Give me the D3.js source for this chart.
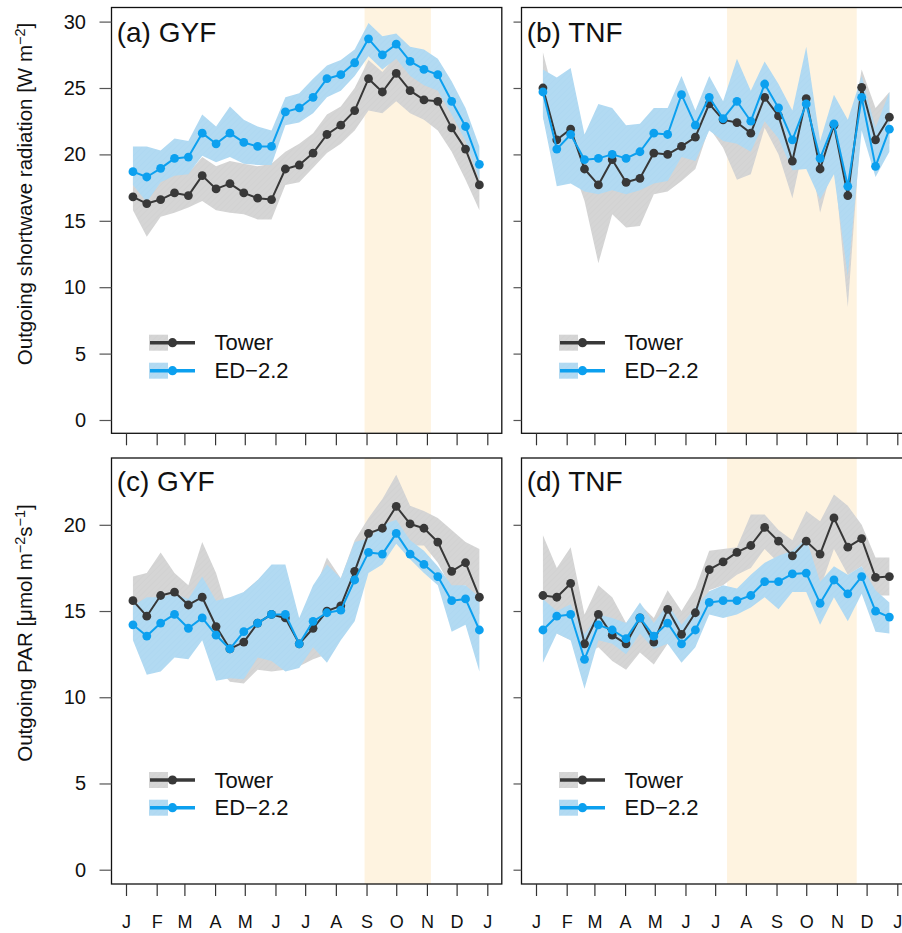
<!DOCTYPE html>
<html>
<head>
<meta charset="utf-8">
<script src="https://cdn.jsdelivr.net/npm/d3@7"></script>
<style>
  html, body { margin: 0; padding: 0; background: #fff; }
  svg { display: block; font-family: "Liberation Sans", Arial, Helvetica, sans-serif; }
</style>
</head>
<body>
<svg id="chart" width="902" height="933"></svg>
<script>
// ---- Calendar axis -------------------------------------------------------
const monthStarts = [0, 31, 59, 90, 120, 151, 181, 212, 243, 273, 304, 334, 365];
const monthLabels = ["J", "F", "M", "A", "M", "J", "J", "A", "S", "O", "N", "D", "J"];
// Centre day-of-year of each fortnightly averaging window
const sampleDays = [7, 21, 35, 49, 63, 77, 91, 105, 119, 133, 147, 161, 175,
                    189, 203, 217, 231, 245, 259, 273, 287, 301, 315, 329, 343, 357];

// ---- Dry season (day-of-year) per site ----------------------------------
const gyfDrySeason = [241, 308];
const tnfDrySeason = [193, 324];

// ---- (a) GYF outgoing shortwave [W m-2] ---------------------------------
const gyfSwTower   = [16.8, 16.3, 16.6, 17.1, 16.9, 18.4, 17.4, 17.8, 17.1, 16.7, 16.6, 18.9, 19.2, 20.1, 21.5, 22.2, 23.3, 25.7, 24.7, 26.1, 24.8, 24.1, 24.0, 22.0, 20.4, 17.7];
const gyfSwTowerLo = [15.8, 13.8, 15.3, 15.6, 16.0, 16.5, 15.8, 15.6, 15.5, 15.1, 15.1, 17.7, 17.9, 19.0, 20.1, 20.8, 21.8, 23.3, 23.1, 24.0, 23.1, 22.6, 21.8, 20.2, 18.1, 15.8];
const gyfSwTowerHi = [18.3, 18.0, 18.6, 19.0, 18.6, 19.8, 19.1, 19.5, 19.3, 19.1, 19.3, 20.2, 20.8, 21.6, 23.0, 23.6, 25.0, 27.1, 26.2, 27.4, 26.1, 25.4, 25.1, 23.6, 21.7, 19.6];
const gyfSwEd      = [18.7, 18.3, 18.95, 19.7, 19.8, 21.6, 20.8, 21.6, 20.9, 20.6, 20.6, 23.2, 23.5, 24.3, 25.7, 26.0, 26.9, 28.7, 27.5, 28.3, 27.0, 26.4, 26.0, 24.0, 22.1, 19.25];
const gyfSwEdLo    = [17.7, 16.4, 17.9, 18.4, 18.5, 19.9, 19.4, 19.8, 19.3, 19.2, 19.2, 22.2, 22.4, 23.1, 24.3, 24.8, 25.9, 27.4, 26.4, 27.2, 25.9, 25.2, 24.8, 23.0, 21.0, 18.1];
const gyfSwEdHi    = [20.6, 20.6, 20.3, 21.2, 21.0, 23.0, 22.1, 23.6, 22.6, 22.1, 21.8, 24.3, 24.6, 25.7, 26.7, 27.1, 27.9, 29.9, 28.9, 29.1, 28.1, 27.9, 27.2, 25.5, 23.5, 20.6];

// ---- (b) TNF outgoing shortwave [W m-2] ---------------------------------
const tnfSwTower   = [25.0, 21.1, 21.9, 18.9, 17.7, 19.6, 17.9, 18.2, 20.1, 20.0, 20.6, 21.3, 23.8, 22.6, 22.4, 21.6, 24.3, 22.9, 19.5, 24.2, 18.9, 22.2, 16.9, 25.05, 21.1, 22.8];
const tnfSwTowerLo = [22.8, 19.5, 19.5, 16.5, 11.8, 15.5, 14.5, 14.6, 17.0, 17.2, 18.0, 18.9, 22.0, 20.5, 18.1, 18.5, 22.0, 20.0, 16.7, 21.5, 15.6, 19.5, 8.5, 22.8, 20.2, 20.8];
const tnfSwTowerHi = [27.7, 23.6, 26.2, 20.0, 19.0, 21.5, 20.5, 20.8, 21.8, 22.0, 22.8, 23.0, 24.8, 23.8, 23.2, 23.0, 26.4, 23.8, 21.5, 25.5, 20.5, 23.8, 20.5, 26.4, 23.5, 24.7];
const tnfSwEd      = [24.7, 20.4, 21.5, 19.6, 19.7, 20.0, 19.7, 20.2, 21.6, 21.5, 24.5, 22.2, 24.3, 22.7, 24.0, 22.5, 25.3, 23.5, 21.1, 23.8, 19.7, 22.3, 17.6, 24.3, 19.1, 21.9];
const tnfSwEdLo    = [22.8, 17.6, 17.8, 17.2, 17.0, 17.3, 17.0, 17.3, 17.8, 18.0, 19.8, 19.5, 21.8, 21.0, 20.8, 20.2, 22.5, 21.2, 18.8, 18.9, 16.6, 18.5, 10.8, 21.8, 18.3, 20.2];
const tnfSwEdHi    = [26.4, 25.8, 26.5, 21.5, 23.8, 23.5, 22.2, 22.3, 23.5, 23.5, 25.9, 23.3, 25.9, 24.0, 27.2, 24.8, 27.0, 25.3, 23.3, 28.1, 21.0, 24.5, 22.6, 25.9, 22.0, 24.7];

// ---- (c) GYF outgoing PAR [umol m-2 s-1] --------------------------------
const gyfParTower   = [15.6, 14.7, 15.9, 16.1, 15.35, 15.8, 14.1, 12.8, 13.2, 14.3, 14.8, 14.6, 13.1, 14.0, 15.0, 15.3, 17.3, 19.5, 19.8, 21.07, 20.05, 19.8, 19.0, 17.3, 17.8, 15.8];
const gyfParTowerLo = [14.0, 13.5, 14.3, 14.5, 14.0, 14.4, 11.8, 10.9, 10.8, 11.6, 11.5, 11.6, 11.8, 12.2, 12.5, 13.5, 15.5, 18.3, 18.5, 19.3, 18.8, 18.8, 17.8, 16.3, 16.5, 14.8];
const gyfParTowerHi = [17.0, 17.2, 18.4, 17.2, 16.5, 19.0, 17.2, 14.6, 16.1, 16.8, 16.0, 16.0, 14.3, 16.0, 18.1, 16.9, 19.1, 20.4, 21.5, 22.9, 21.1, 20.8, 20.4, 19.7, 19.0, 18.6];
const gyfParEd      = [14.2, 13.55, 14.3, 14.8, 14.0, 14.6, 13.6, 12.8, 13.8, 14.3, 14.8, 14.8, 13.1, 14.4, 14.9, 15.05, 16.8, 18.4, 18.3, 19.5, 18.3, 17.7, 17.0, 15.6, 15.7, 13.9];
const gyfParEdLo    = [13.3, 11.3, 11.5, 12.3, 12.2, 13.3, 10.95, 11.1, 11.05, 12.3, 12.1, 11.5, 11.7, 12.9, 12.0, 13.3, 14.4, 17.2, 17.7, 18.9, 18.0, 17.2, 16.5, 13.8, 14.2, 11.5];
const gyfParEdHi    = [15.3, 15.8, 15.8, 16.0, 15.7, 17.0, 15.6, 15.8, 16.1, 16.8, 17.7, 17.7, 14.6, 16.5, 17.7, 16.9, 19.0, 19.2, 20.0, 20.3, 19.1, 18.5, 17.6, 16.5, 16.5, 15.8];

// ---- (d) TNF outgoing PAR [umol m-2 s-1] --------------------------------
const tnfParTower   = [15.9, 15.8, 16.6, 13.1, 14.8, 13.6, 13.1, 14.6, 13.2, 15.1, 13.65, 14.9, 17.4, 17.85, 18.4, 18.8, 19.85, 19.05, 18.2, 19.05, 18.3, 20.4, 18.7, 19.2, 16.95, 17.0];
const tnfParTowerLo = [14.8, 13.7, 13.3, 12.4, 12.9, 12.1, 11.6, 12.6, 11.9, 13.1, 12.4, 13.45, 16.2, 16.5, 17.1, 17.5, 18.6, 17.8, 16.85, 17.6, 16.3, 18.6, 17.1, 17.6, 15.9, 15.9];
const tnfParTowerHi = [19.4, 17.5, 18.7, 14.8, 16.5, 15.8, 14.3, 15.4, 14.6, 16.2, 15.0, 16.3, 18.5, 18.6, 18.7, 20.6, 20.6, 19.7, 19.1, 20.8, 20.2, 21.75, 21.1, 20.0, 18.1, 18.1];
const tnfParEd      = [13.9, 14.7, 14.8, 12.2, 14.2, 13.9, 13.4, 14.6, 13.55, 14.3, 13.1, 13.9, 15.5, 15.6, 15.6, 15.9, 16.7, 16.7, 17.15, 17.2, 15.45, 16.8, 16.0, 17.0, 15.0, 14.65];
const tnfParEdLo    = [12.0, 13.7, 13.3, 10.5, 13.3, 13.1, 12.5, 13.7, 12.8, 13.1, 12.0, 12.9, 14.8, 14.6, 14.8, 15.2, 15.8, 15.1, 16.1, 16.1, 14.2, 15.8, 14.4, 16.0, 13.8, 13.7];
const tnfParEdHi    = [15.7, 15.0, 15.4, 13.65, 14.8, 14.6, 14.3, 15.5, 14.3, 15.4, 14.2, 15.2, 16.15, 16.5, 16.3, 17.1, 17.8, 18.2, 18.5, 19.2, 16.7, 17.6, 17.1, 17.6, 16.2, 15.5];

// ---- Labels ----------------------------------------------------------------
const panelTitles = ["(a) GYF", "(b) TNF", "(c) GYF", "(d) TNF"];
const seriesNames = ["Tower", "ED\u22122.2"];
const swTicks = [0, 5, 10, 15, 20, 25, 30];
const parTicks = [0, 5, 10, 15, 20];

// ---- Styling -----------------------------------------------------------------
const towerLine = "#383838", towerBand = "#d5d5d5";
const edLine = "#0ca0ef", edBand = "#b2daf2";
const seasonFill = "#fef3e0";

const svg = d3.select("#chart");
const defs = svg.append("defs");

function hatch(id, base, stripe) {
  const p = defs.append("pattern")
    .attr("id", id).attr("patternUnits", "userSpaceOnUse")
    .attr("width", 4).attr("height", 4)
    .attr("patternTransform", "rotate(45)");
  p.append("rect").attr("width", 4).attr("height", 4).attr("fill", base);
  p.append("line").attr("x1", 0).attr("y1", 0).attr("x2", 0).attr("y2", 4)
    .attr("stroke", stripe).attr("stroke-width", 1);
}
hatch("hatchTower", towerBand, "#d0d0d0");
hatch("hatchEd", edBand, "#acd7f1");

// Plot regions (2 columns x 2 rows)
const colLeft = [111.5, 521.5];
const boxW = 390.3;
const rows = [
  { top: 7.5, bottom: 433.3, domain: [0, 30], range: [420, 21.6], ticks: swTicks,
    labelY: 42, legendY: [342.7, 370.7], titleY: 194 },
  { top: 458, bottom: 884, domain: [0, 20], range: [869.7, 524.8], ticks: parTicks,
    labelY: 490.5, legendY: [780, 807.7], titleY: 633 }
];

const panels = [
  { title: panelTitles[0], col: 0, row: 0, season: gyfDrySeason,
    tower: [gyfSwTower, gyfSwTowerLo, gyfSwTowerHi], ed: [gyfSwEd, gyfSwEdLo, gyfSwEdHi] },
  { title: panelTitles[1], col: 1, row: 0, season: tnfDrySeason,
    tower: [tnfSwTower, tnfSwTowerLo, tnfSwTowerHi], ed: [tnfSwEd, tnfSwEdLo, tnfSwEdHi] },
  { title: panelTitles[2], col: 0, row: 1, season: gyfDrySeason,
    tower: [gyfParTower, gyfParTowerLo, gyfParTowerHi], ed: [gyfParEd, gyfParEdLo, gyfParEdHi] },
  { title: panelTitles[3], col: 1, row: 1, season: tnfDrySeason,
    tower: [tnfParTower, tnfParTowerLo, tnfParTowerHi], ed: [tnfParEd, tnfParEdLo, tnfParEdHi] }
];

panels.forEach((p, k) => {
  const r = rows[p.row];
  const x0 = colLeft[p.col];
  const x = d3.scaleLinear().domain([0, 365]).range([x0 + 14.5, x0 + 375.8]);
  const y = d3.scaleLinear().domain(r.domain).range(r.range);
  const g = svg.append("g");

  const clipId = "clip" + k;
  defs.append("clipPath").attr("id", clipId)
    .append("rect").attr("x", x0).attr("y", r.top)
    .attr("width", boxW).attr("height", r.bottom - r.top);
  const plot = g.append("g").attr("clip-path", `url(#${clipId})`);

  // dry season shading
  plot.append("rect")
    .attr("x", x(p.season[0])).attr("y", r.top)
    .attr("width", x(p.season[1]) - x(p.season[0]))
    .attr("height", r.bottom - r.top)
    .attr("fill", seasonFill);

  const ribbon = (lo, hi) => d3.area()
    .x((d, i) => x(sampleDays[i]))
    .y0((d, i) => y(lo[i]))
    .y1((d, i) => y(hi[i]))(sampleDays);
  const path = vals => d3.line()
    .x((d, i) => x(sampleDays[i]))
    .y(d => y(d))(vals);

  plot.append("path").attr("d", ribbon(p.tower[1], p.tower[2])).attr("fill", "url(#hatchTower)");
  plot.append("path").attr("d", ribbon(p.ed[1], p.ed[2])).attr("fill", "url(#hatchEd)");

  [[p.tower[0], towerLine], [p.ed[0], edLine]].forEach(([vals, col]) => {
    plot.append("path").attr("d", path(vals)).attr("fill", "none")
      .attr("stroke", col).attr("stroke-width", 2).attr("stroke-linejoin", "round");
    plot.selectAll(null).data(vals).enter().append("circle")
      .attr("cx", (d, i) => x(sampleDays[i])).attr("cy", d => y(d))
      .attr("r", 4.4).attr("fill", col);
  });

  // frame
  g.append("rect").attr("x", x0).attr("y", r.top)
    .attr("width", boxW).attr("height", r.bottom - r.top)
    .attr("fill", "none").attr("stroke", "#111").attr("stroke-width", 1.3);

  // y axis
  const yLen = p.col === 0 ? 12 : 8;
  const yAxis = d3.axisLeft(y).tickValues(r.ticks).tickSize(yLen)
    .tickPadding(111.5 - 86 - 12)
    .tickFormat(p.col === 0 ? d3.format("d") : () => "");
  const ya = g.append("g").attr("transform", `translate(${x0},0)`).call(yAxis);
  ya.select(".domain").remove();
  ya.selectAll(".tick line").attr("stroke", "#555").attr("stroke-width", 1.2);
  ya.selectAll(".tick text").attr("font-size", 20).attr("fill", "#111")
    .attr("font-family", "Liberation Sans, Arial, sans-serif");

  // x axis
  const xAxis = d3.axisBottom(x).tickValues(monthStarts).tickSize(12)
    .tickPadding(19)
    .tickFormat(p.row === 1 ? (d, i) => monthLabels[i] : () => "");
  const xa = g.append("g").attr("transform", `translate(0,${r.bottom})`).call(xAxis);
  xa.select(".domain").remove();
  xa.selectAll(".tick line").attr("stroke", "#333").attr("stroke-width", 1.2);
  xa.selectAll(".tick text").attr("font-size", 18).attr("fill", "#111")
    .attr("font-family", "Liberation Sans, Arial, sans-serif");

  // panel title
  g.append("text").attr("x", x0 + 5.2).attr("y", r.labelY)
    .attr("font-size", 28).attr("fill", "#111").text(p.title);

  // legend
  [[seriesNames[0], towerLine, "url(#hatchTower)"], [seriesNames[1], edLine, "url(#hatchEd)"]]
    .forEach(([name, col, fill], j) => {
      const ly = r.legendY[j];
      g.append("rect").attr("x", x0 + 37.5).attr("y", ly - 8)
        .attr("width", 19).attr("height", 16).attr("fill", fill);
      g.append("line").attr("x1", x0 + 38.5).attr("x2", x0 + 83.5)
        .attr("y1", ly).attr("y2", ly).attr("stroke", col).attr("stroke-width", 3.5);
      g.append("circle").attr("cx", x0 + 61).attr("cy", ly).attr("r", 4.6).attr("fill", col);
      g.append("text").attr("x", x0 + 103).attr("y", ly + 7.7)
        .attr("font-size", 22).attr("fill", "#111").text(name);
    });
});

// y-axis titles
function yTitle(cy, parts) {
  const t = svg.append("text")
    .attr("transform", `translate(32,${cy}) rotate(-90)`)
    .attr("text-anchor", "middle").attr("font-size", 20.5).attr("fill", "#111");
  parts.forEach(([s, sup]) => {
    const ts = t.append("tspan").text(s);
    if (sup) ts.attr("font-size", 14.5).attr("baseline-shift", "48%");
  });
}
yTitle(rows[0].titleY, [["Outgoing shortwave radiation [W m"], ["\u22122", true], ["]"]]);
yTitle(rows[1].titleY, [["Outgoing PAR [\u03bcmol m"], ["\u22122", true], ["s"], ["\u22121", true], ["]"]]);
</script>
</body>
</html>
